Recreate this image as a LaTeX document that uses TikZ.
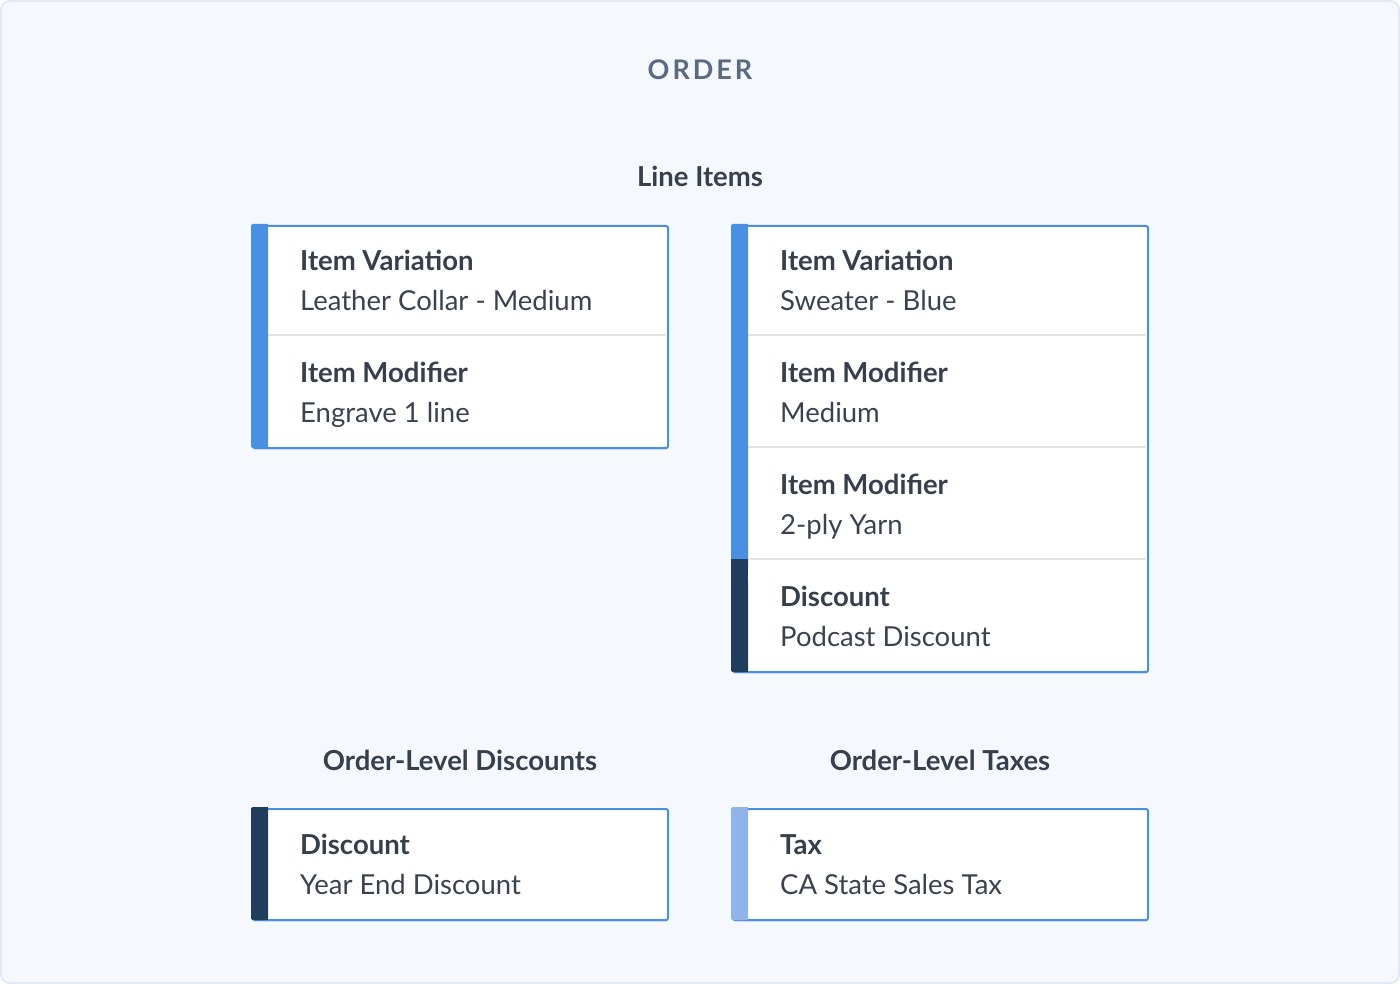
\documentclass[tikz,border=0pt]{standalone}
\usepackage{fontspec}
\setmainfont{Lato}
\usetikzlibrary{shadows}
\definecolor{bgc}{HTML}{F5F9FE}
\definecolor{bgborder}{HTML}{E1EAF5}
\definecolor{boxborder}{HTML}{4A90E2}
\definecolor{barblue}{HTML}{4A90E2}
\definecolor{barnavy}{HTML}{213D5E}
\definecolor{barlight}{HTML}{8FB5E8}
\definecolor{divider}{HTML}{E3E3E3}
\definecolor{titlec}{HTML}{5A6B80}
\definecolor{headc}{HTML}{373F4C}
\definecolor{textc}{HTML}{3A4250}
\tikzset{
  cardbox/.style={draw=boxborder, line width=2pt, fill=white, rounded corners=2pt,
    drop shadow={shadow xshift=0pt, shadow yshift=-2pt, opacity=0.12}},
  divline/.style={draw=divider, line width=1.5pt},
  lbl/.style={anchor=base west, font=\fontsize{27.5}{32}\selectfont\bfseries, text=headc, inner sep=0pt},
  val/.style={anchor=base west, font=\fontsize{27.5}{32}\selectfont, text=textc, inner sep=0pt},
  section/.style={anchor=base, font=\fontsize{27.5}{32}\selectfont\bfseries, text=headc, inner sep=0pt},
}
\begin{document}
\begin{tikzpicture}[x=1pt,y=-1pt]
\useasboundingbox (0,0) rectangle (1400,984);
\draw[fill=bgc, draw=bgborder, line width=2pt, rounded corners=8pt] (1,1) rectangle (1399,983);

\node[anchor=base, font=\fontsize{27}{30}\selectfont\bfseries, text=titlec, inner sep=0pt] (title) at (700,80) {O\kern3pt R\kern3pt D\kern3pt E\kern3pt R};
\node[section] (li) at (700,186.5) {Line Items};
\node[section] (old) at (460,770.5) {Order-Level Discounts};
\node[section] (olt) at (940,770.5) {Order-Level Taxes};

% left card
\node[cardbox, minimum width=415pt, minimum height=222pt, anchor=north west, inner sep=0pt] (c1) at (252,225) {};
\fill[barblue, rounded corners=2pt] (251,224) rectangle (268,448);
\fill[barblue] (260,224) rectangle (268,448);
\draw[divline] (268,335) -- (666,335);
\node[lbl] (c1a) at (300,270.5) {Item Variation};
\node[val] (c1b) at (300,310.5) {Leather Collar - Medium};
\node[lbl] (c1c) at (300,382.5) {Item Modifier};
\node[val] (c1d) at (300,422.5) {Engrave 1 line};

% right card
\node[cardbox, minimum width=415pt, minimum height=446pt, anchor=north west, inner sep=0pt] (c2) at (732,225) {};
\fill[barblue, rounded corners=2pt] (731,224) rectangle (748,570);
\fill[barblue] (731,300) rectangle (748,570);
\fill[barblue] (740,224) rectangle (748,300);
\fill[barnavy, rounded corners=2pt] (731,580) rectangle (748,672);
\fill[barnavy] (731,559) rectangle (748,600);
\fill[barnavy] (740,559) rectangle (748,672);
\draw[divline] (748,335) -- (1146,335);
\draw[divline] (748,447) -- (1146,447);
\draw[divline] (748,559) -- (1146,559);
\node[lbl] (c2a) at (780,270.5) {Item Variation};
\node[val] (c2b) at (780,310.5) {Sweater - Blue};
\node[lbl] (c2c) at (780,382.5) {Item Modifier};
\node[val] (c2d) at (780,422.5) {Medium};
\node[lbl] (c2e) at (780,494.5) {Item Modifier};
\node[val] (c2f) at (780,534.5) {2-ply Yarn};
\node[lbl] (c2g) at (780,606.5) {Discount};
\node[val] (c2h) at (780,646.5) {Podcast Discount};

% bottom left
\node[cardbox, minimum width=415pt, minimum height=111pt, anchor=north west, inner sep=0pt] (c3) at (252,808) {};
\fill[barnavy, rounded corners=2pt] (251,807) rectangle (268,920);
\fill[barnavy] (260,807) rectangle (268,920);
\node[lbl] (c3a) at (300,854.5) {Discount};
\node[val] (c3b) at (300,894.5) {Year End Discount};

% bottom right
\node[cardbox, minimum width=415pt, minimum height=111pt, anchor=north west, inner sep=0pt] (c4) at (732,808) {};
\fill[barlight, rounded corners=2pt] (731,807) rectangle (748,920);
\fill[barlight] (740,807) rectangle (748,920);
\node[lbl] (c4a) at (780,854.5) {Tax};
\node[val] (c4b) at (780,894.5) {CA State Sales Tax};
\end{tikzpicture}
\end{document}
